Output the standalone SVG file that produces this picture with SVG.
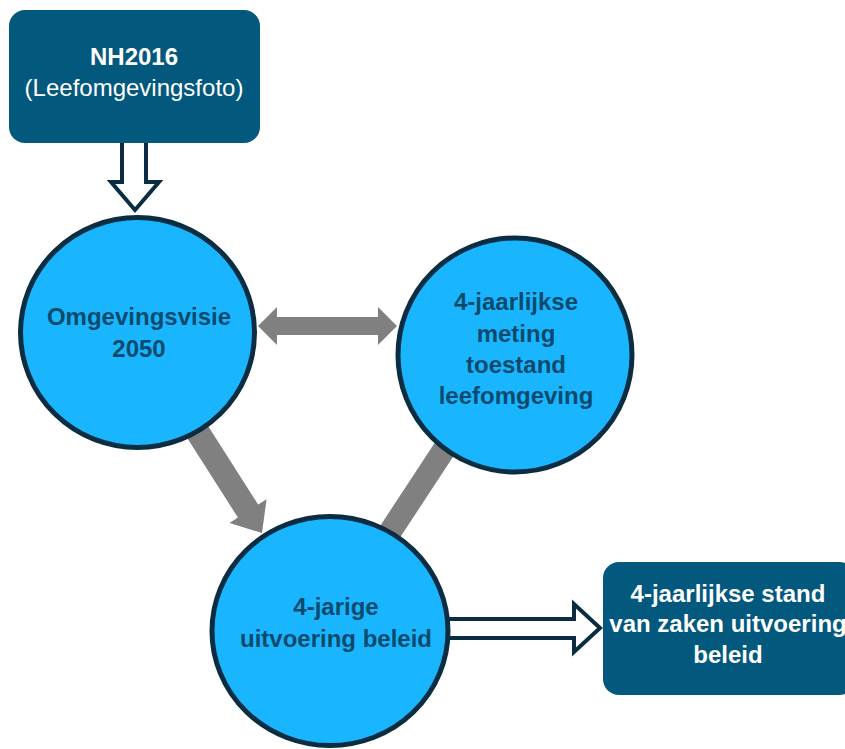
<svg xmlns="http://www.w3.org/2000/svg" width="845" height="749" viewBox="0 0 845 749">
<style>
.box{fill:#03587D;}
.circ{fill:#19B6FF;stroke:#0A2D42;stroke-width:5;}
.grey{fill:#808080;}
.outl{fill:#FFFFFF;stroke:#0A2D42;stroke-width:4;stroke-linejoin:miter;}
text{font-family:"Liberation Sans",Arial,sans-serif;font-size:24px;text-anchor:middle;}
.wt{fill:#FFFFFF;}
.dt{fill:#0A4A6C;font-weight:bold;}
.b{font-weight:bold;}
</style>
<rect width="845" height="749" fill="#FFFFFF"/>
<g id="connectors">
  <line x1="470" y1="410" x2="365" y2="570" stroke="#808080" stroke-width="23"/>
  <polygon class="grey" transform="translate(262,533) rotate(57.5)" points="-150,-12 -26,-12 -26,-22 0,0 -26,22 -26,12 -150,12"/>
  <polygon class="grey" points="258,326 277,307 277,317 378,317 378,307 397,326 378,345 378,335 277,335 277,345"/>
  <path class="outl" d="M122,143 V182 H111 L135,210 L159,182 H146 V143"/>
  <path class="outl" d="M440,619 H574 V604 L600,628 L574,652 V638 H440"/>
</g>
<g id="nh2016">
  <rect class="box" x="9" y="10" width="251" height="133" rx="16"/>
  <text class="wt b" x="134" y="65">NH2016</text>
  <text class="wt" x="134" y="96">(Leefomgevingsfoto)</text>
</g>
<g id="omgevingsvisie">
  <ellipse class="circ" cx="137.5" cy="332.5" rx="117" ry="115"/>
  <text class="dt" x="139" y="325">Omgevingsvisie</text>
  <text class="dt" x="139" y="357">2050</text>
</g>
<g id="meting">
  <circle class="circ" cx="515" cy="355" r="117"/>
  <text class="dt" x="516" y="310">4-jaarlijkse</text>
  <text class="dt" x="516" y="342">meting</text>
  <text class="dt" x="516" y="373">toestand</text>
  <text class="dt" x="516" y="404">leefomgeving</text>
</g>
<g id="uitvoering">
  <ellipse class="circ" cx="330" cy="631" rx="118" ry="114.5"/>
  <text class="dt" x="336" y="615">4-jarige</text>
  <text class="dt" x="336" y="647">uitvoering beleid</text>
</g>
<g id="standvanzaken">
  <rect class="box" x="603" y="562" width="252" height="133" rx="16"/>
  <text class="wt b" x="728" y="602">4-jaarlijkse stand</text>
  <text class="wt b" x="728" y="632">van zaken uitvoering</text>
  <text class="wt b" x="728" y="663">beleid</text>
</g>
</svg>
